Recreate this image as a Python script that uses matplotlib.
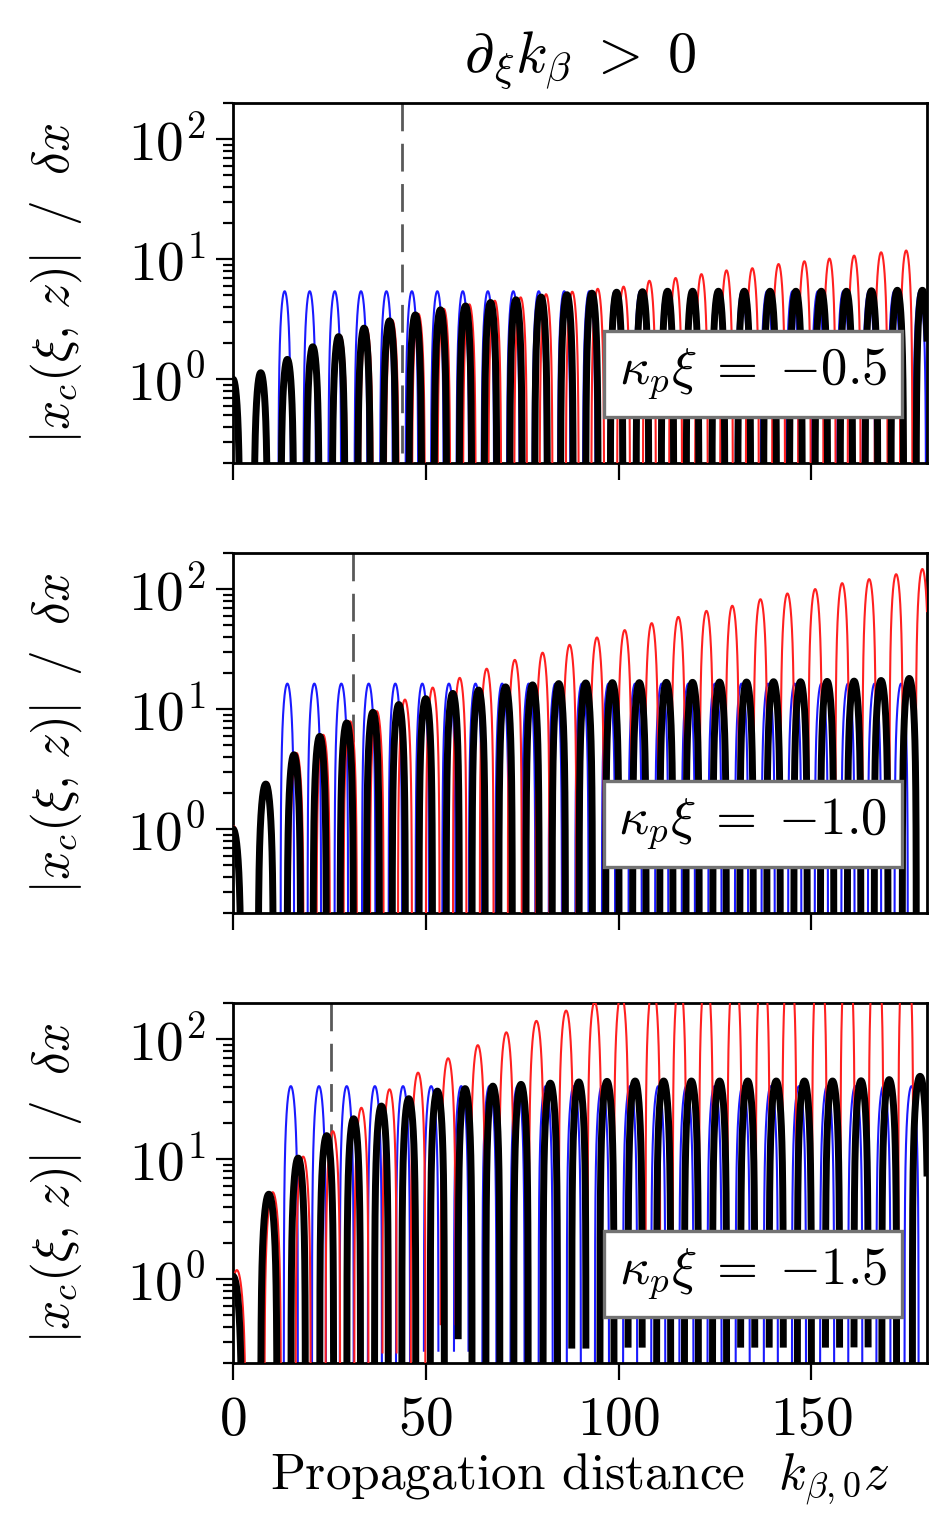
import numpy as np
import matplotlib
matplotlib.use('Agg')
import matplotlib.pyplot as plt

plt.rcParams['mathtext.fontset'] = 'cm'
plt.rcParams['font.family'] = 'serif'
plt.rcParams['font.serif'] = ['cmr10']
plt.rcParams['axes.formatter.use_mathtext'] = True

# hump peak positions (k_beta0 z) and peak heights, one set per kappa_p xi

# kappa_p xi = -0.5
zb1 = [0, 7.2, 14.1, 20.7, 27.4, 34.0, 40.6, 47.3, 53.8, 60.3, 66.8, 73.4, 79.9, 86.6,
       93.1, 99.5, 106.2, 112.7, 119.2, 125.9, 132.6, 139.3, 146.0, 152.6, 159.1, 165.6,
       172.3, 178.8]
ab1 = [1.0, 1.13, 1.46, 1.86, 2.26, 2.66, 3.06, 3.43, 3.78, 4.07, 4.35, 4.58, 4.83, 5.05,
       5.2, 5.3, 5.35, 5.4, 5.4, 5.4, 5.4, 5.4, 5.4, 5.4, 5.4, 5.45, 5.5, 5.5]
zr1 = [0.1, 7.4, 14.4, 21.1, 27.9, 34.6, 41.3, 48.1, 54.7, 61.3, 67.9, 74.6, 81.2, 88.0,
       94.6, 101.3, 108.0, 114.8, 121.5, 128.0, 134.7, 141.5, 148.2, 154.7, 161.1, 168.1,
       174.6]
ar1 = [1.0, 1.15, 1.5, 1.9, 2.3, 2.7, 3.1, 3.5, 3.85, 4.2, 4.5, 4.8, 5.1, 5.35,
       5.66, 5.9, 6.6, 6.96, 7.5, 8.06, 8.4, 9.1, 9.6, 10.1, 10.7, 11.4, 11.8]
zu1 = [13.4, 19.9, 26.4, 33.2, 39.8, 46.4, 53.0, 59.6, 66.1, 72.7, 79.3, 85.9, 92.4,
       99.0, 105.6, 112.2, 118.8, 125.4, 132.0, 138.5, 145.1, 151.7, 158.3, 164.9, 171.5,
       178.1]

# kappa_p xi = -1.0
zb2 = [0, 8.5, 15.8, 22.5, 29.5, 36.3, 43.0, 50.0, 57.0, 63.7, 70.7, 77.7, 84.5, 91.5,
       98.4, 105.4, 112.4, 119.2, 126.2, 133.2, 140.2, 147.2, 154.1, 161.1, 168.1, 175.4]
ab2 = [1.0, 2.37, 4.16, 5.92, 7.66, 9.4, 10.9, 12.2, 13.5, 14.4, 15.3, 15.9, 16.3, 16.5,
       16.6, 16.6, 16.7, 16.7, 16.8, 16.8, 16.9, 16.9, 17.0, 17.1, 17.3, 18.0]
zr2 = [0.3, 8.9, 16.5, 23.4, 30.4, 37.3, 44.6, 51.8, 58.8, 65.8, 73.1, 80.3, 87.3, 94.4,
       101.6, 108.6, 115.5, 122.8, 129.5, 136.8, 143.8, 151.0, 158.0, 165.0, 172.0, 178.8]
ar2 = [1.05, 2.45, 4.3, 6.1, 7.9, 9.6, 12.0, 15.1, 18.2, 21.7, 25.7, 29.5, 34.3, 39.5,
       45.5, 52.0, 58.6, 65.8, 72.6, 82.3, 91.9, 100, 112, 121, 133, 147]
zu2 = [14.1, 21.1, 28.1, 35.2, 42.1, 49.1, 56.0, 62.9, 69.8, 76.7, 83.6, 90.5, 97.4,
       104.3, 111.2, 118.1, 125.0, 131.9, 138.8, 145.7, 152.6, 159.5, 166.4, 173.3]

# kappa_p xi = -1.5
zb3 = [0, 9.3, 16.9, 24.3, 31.3, 38.5, 45.6, 53.0, 60.2, 67.4, 74.7, 82.3, 89.7, 97.0,
       104.3, 111.7, 118.9, 126.2, 133.5, 140.9, 148.2, 155.5, 162.9, 170.2, 178.2]
ab3 = [1.06, 5.1, 10.2, 15.7, 21.7, 27.7, 31.9, 36.9, 38.7, 40.6, 42.0, 43.0, 44.0, 44.5,
       44.8, 44.8, 44.8, 44.8, 44.8, 44.8, 44.8, 44.8, 45.0, 46.0, 49.0]
zr3 = [1.0, 10.3, 18.2, 25.9, 33.3, 40.6, 48.0, 55.8, 63.5, 70.9, 78.7, 86.4, 93.8,
       100.7, 108.9, 115.8, 122.7, 130.1, 137.4, 144.3, 152.1, 159.4, 166.8, 174.5]
ar3 = [1.19, 5.3, 10.5, 17.1, 26.8, 38.2, 52.6, 69.3, 89.1, 114, 142, 173, 205,
       240, 275, 310, 350, 390, 430, 470, 510, 550, 590, 630]
zu3 = [15.0, 22.3, 29.5, 36.8, 44.1, 51.4, 59.2, 66.5, 73.8, 81.1, 88.4, 95.7, 103.0,
       110.3, 117.6, 124.9, 132.2, 139.5, 146.8, 154.1, 161.4, 168.7, 176.0]

blue_amp = [5.4, 16.3, 40.6]
z_dash = [43.8, 31.0, 25.4]
kxi = ['0.5', '1.0', '1.5']

panels = [(zb1, ab1, zr1, ar1, zu1), (zb2, ab2, zr2, ar2, zu2), (zb3, ab3, zr3, ar3, zu3)]

z = np.arange(0, 180.001, 0.01)


def humps(zp, amp):
    # positive half of each oscillation around its peak; the rest is masked on the log axis
    zp = np.asarray(zp, float)
    amp = np.broadcast_to(np.asarray(amp, float), zp.shape)
    sp = np.diff(zp)
    y = np.full_like(z, np.nan)
    for k in range(len(zp)):
        left = sp[k - 1] if k > 0 else sp[0]
        right = sp[k] if k < len(sp) else sp[-1]
        h = (left + right) / 8
        m = np.abs(z - zp[k]) < h
        y[m] = amp[k] * np.cos(0.5 * np.pi * (z[m] - zp[k]) / h)
    return y


fig = plt.figure(figsize=(9.49, 15.17), dpi=100)
bottoms = [0.6948, 0.3982, 0.1015]

for i, (zb, ab, zr, ar, zu) in enumerate(panels):
    ax = fig.add_axes([0.2455, bottoms[i], 0.7313, 0.2373])
    # dashes start from the top edge
    ax.plot([z_dash[i], z_dash[i]], [1, 0], transform=ax.get_xaxis_transform(),
            color='0.35', lw=2.0, ls=(0, (10, 4.5)), zorder=1)
    ax.plot(z, humps(zu, blue_amp[i]), color='#1a1aff', lw=1.5, zorder=2)
    ax.plot(z, humps(zr, ar), color='#ff2020', lw=1.5, zorder=3)
    ax.plot(z, humps(zb, ab), color='black', lw=5.0, zorder=4)

    ax.set_yscale('log')
    ax.set_ylim(0.2, 200)
    ax.set_xlim(0, 180)
    ax.set_xticks([0, 50, 100, 150])
    ax.tick_params(which='both', direction='out', top=False, right=False, width=1.6,
                   labelsize=40)
    ax.tick_params(which='major', length=12, pad=8)
    ax.tick_params(which='minor', length=7)
    ax.tick_params(axis='x', pad=12)
    if i < 2:
        ax.tick_params(axis='x', labelbottom=False)
    for s in ax.spines.values():
        s.set_linewidth(2.0)

    ax.set_ylabel(r'$|x_c(\xi,\,z)|\;\;/\;\;\delta x$', fontsize=37)
    ax.yaxis.set_label_coords(-0.215, 0.5)

    ax.text(0.749, 0.247, r'$\kappa_p\xi\;=\;{-}' + kxi[i] + '$',
            transform=ax.transAxes, ha='center', va='center', fontsize=38, zorder=6,
            bbox=dict(boxstyle='square,pad=0.28', fc='white', ec='0.45', lw=2.4))

    if i == 0:
        ax.set_title(r'$\partial_\xi k_\beta\;>\;0$', fontsize=42, pad=22)
    if i == 2:
        ax.set_xlabel(r'Propagation distance  $k_{\beta,0}z$', fontsize=37, labelpad=4)

fig.savefig('out.png', dpi=100)
